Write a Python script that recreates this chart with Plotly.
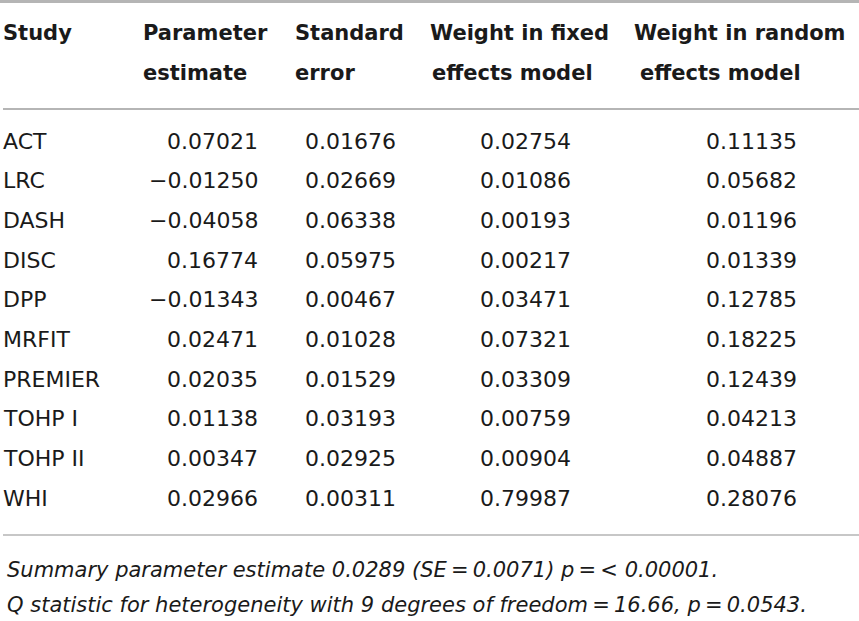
"""Meta-analysis table: per-study estimates, standard errors and model weights."""
import plotly.graph_objects as go

W, H = 859, 621
FONT = "DejaVu Sans"
INK = "#1a1a1a"
RULE = "#b5b5b5"

# ---- data ----
studies = ["ACT", "LRC", "DASH", "DISC", "DPP", "MRFIT", "PREMIER",
           "TOHP I", "TOHP II", "WHI"]
param_estimate = [0.07021, -0.01250, -0.04058, 0.16774, -0.01343, 0.02471,
                  0.02035, 0.01138, 0.00347, 0.02966]
standard_error = [0.01676, 0.02669, 0.06338, 0.05975, 0.00467, 0.01028,
                  0.01529, 0.03193, 0.02925, 0.00311]
weight_fixed = [0.02754, 0.01086, 0.00193, 0.00217, 0.03471, 0.07321,
                0.03309, 0.00759, 0.00904, 0.79987]
weight_random = [0.11135, 0.05682, 0.01196, 0.01339, 0.12785, 0.18225,
                 0.12439, 0.04213, 0.04887, 0.28076]
header_line1 = ["Study", "Parameter", "Standard", "Weight in fixed", "Weight in random"]
header_line2 = ["", "estimate", "error", "effects model", "effects model"]
summary_est, summary_se, summary_p = "0.0289", "0.0071", "< 0.00001"
q_df, q_stat, q_p = 9, "16.66", "0.0543"

# ---- layout (pixel coords on hidden axes) ----
head_x1 = [1, 141, 293, 428, 632]
head_x2 = [1, 141, 293, 430, 638]
val_right = [260, 398, 573, 799]   # right edge of numeric columns
row_y0, row_dy = 141, 39.67


def fmt(v):
    s = f"{v:.5f}"
    return s.replace("-", "\u2212")


fig = go.Figure()
fig.add_trace(go.Scatter(x=[0, W], y=[0, H], mode="markers",
                         marker=dict(opacity=0), hoverinfo="skip", showlegend=False))

ann = []
for i, (a, b) in enumerate(zip(header_line1, header_line2)):
    ann.append(dict(x=head_x1[i], y=33, text=f"<b>{a}</b>", xanchor="left",
                    font=dict(size=21, family=FONT, color=INK)))
    if b:
        ann.append(dict(x=head_x2[i], y=73, text=f"<b>{b}</b>", xanchor="left",
                        font=dict(size=21, family=FONT, color=INK)))

cols = [param_estimate, standard_error, weight_fixed, weight_random]
for r, name in enumerate(studies):
    y = row_y0 + r * row_dy
    ann.append(dict(x=1, y=y, text=name, xanchor="left",
                    font=dict(size=22, family=FONT, color=INK)))
    for c, col in enumerate(cols):
        ann.append(dict(x=val_right[c], y=y, text=fmt(col[r]), xanchor="right",
                        font=dict(size=22, family=FONT, color=INK)))

notes = [
    f"<i>Summary parameter estimate {summary_est} (SE\u2009=\u2009{summary_se}) "
    f"p\u2009=\u2009{summary_p}.</i>",
    f"<i>Q statistic for heterogeneity with {q_df} degrees of freedom\u2009=\u2009{q_stat}, "
    f"p\u2009=\u2009{q_p}.</i>",
]
for k, t in enumerate(notes):
    ann.append(dict(x=5, y=570 + k * 35, text=t, xanchor="left",
                    font=dict(size=21, family=FONT, color=INK)))

for a in ann:
    a.update(xref="x", yref="y", yanchor="middle", showarrow=False)

shapes = [
    dict(type="line", x0=0, x1=W, y0=1.5, y1=1.5, line=dict(color=RULE, width=3)),
    dict(type="line", x0=3, x1=W, y0=109, y1=109, line=dict(color=RULE, width=2)),
    dict(type="line", x0=3, x1=W, y0=535, y1=535, line=dict(color=RULE, width=1.5)),
]
for s in shapes:
    s.update(xref="x", yref="y", layer="above")

fig.update_layout(
    width=W, height=H, margin=dict(l=0, r=0, t=0, b=0),
    paper_bgcolor="white", plot_bgcolor="white",
    annotations=ann, shapes=shapes, showlegend=False,
)
fig.update_xaxes(range=[0, W], visible=False, fixedrange=True)
fig.update_yaxes(range=[H, 0], visible=False, fixedrange=True)
# page body has a default 8px margin; drop it so the table sits at the corner
fig.write_html("out.html", config={"displayModeBar": False},
               post_script="document.body.style.margin='0';")
